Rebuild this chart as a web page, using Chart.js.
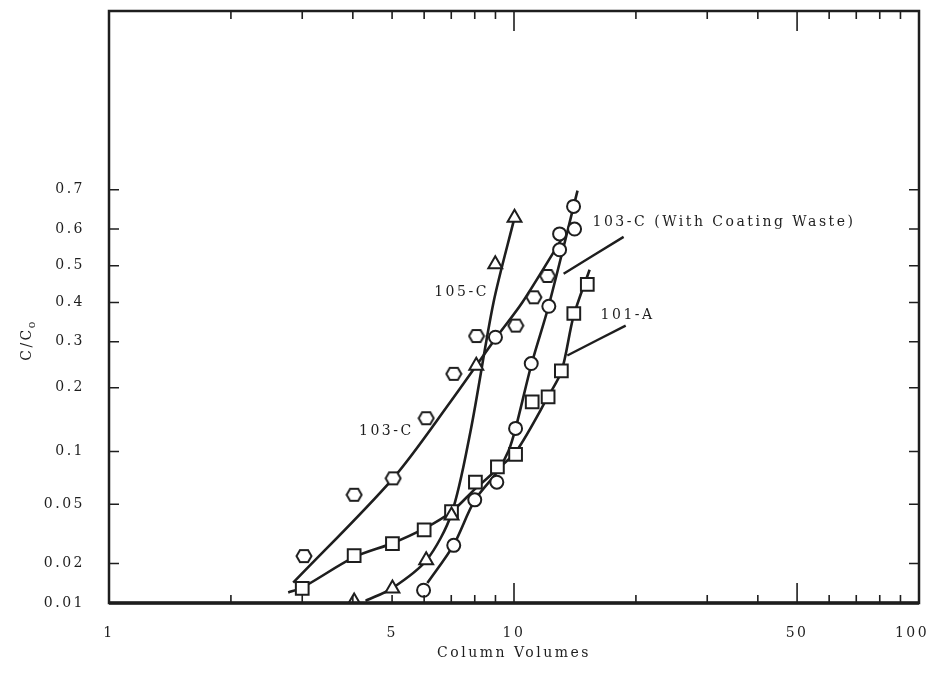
<!DOCTYPE html>
<html>
<head>
<meta charset="utf-8">
<script src="https://cdn.jsdelivr.net/npm/chart.js@4.4.1/dist/chart.umd.min.js"></script>
<style>
  body { margin: 0; background: #fff; }
  canvas { display: block; }
</style>
</head>
<body>
<canvas id="chart" width="931" height="682"></canvas>
<script>
// axis ticks
const xTickValues = [1, 5, 10, 50, 100];
const xTickLabels = ["1", "5", "10", "50", "100  "];
const xMinorTicks = [2, 3, 4, 5, 6, 7, 8, 9, 20, 30, 40, 60, 70, 80, 90];
const xMajorTicks = [10, 50];
const yTickValues = [0.01, 0.02, 0.05, 0.1, 0.2, 0.3, 0.4, 0.5, 0.6, 0.7];
const yTickLabels = ["0.01", "0.02", "0.05", "0.1", "0.2", "0.3", "0.4", "0.5", "0.6", "0.7"];
const yMinP = 0.01;
const yMaxP = 0.9606;

// 103-C (hexagons)
const hex103cX = [3.03, 4.03, 5.03, 6.07, 7.10, 8.08, 10.1, 11.2, 12.1];
const hex103cP = [0.0226, 0.0571, 0.0713, 0.1465, 0.228, 0.314, 0.340, 0.414, 0.472];
// 103-C (With Coating Waste) (circles)
const circWcwX = [5.98, 7.10, 8.0, 9.07, 9.0, 10.09, 11.03, 12.19, 12.96, 12.96, 14.11, 14.03];
const circWcwP = [0.0126, 0.0269, 0.0532, 0.0677, 0.311, 0.131, 0.250, 0.390, 0.544, 0.587, 0.600, 0.659];
// 105-C (triangles)
const tri105cX = [4.03, 5.01, 6.07, 7.01, 8.07, 8.99, 10.03];
const tri105cP = [0.0103, 0.0130, 0.0211, 0.0424, 0.245, 0.504, 0.630];
// 101-A (squares)
const sq101aX = [3.0, 4.03, 5.01, 6.0, 7.01, 8.03, 9.10, 10.09, 11.09, 12.14, 13.09, 14.05, 15.17];
const sq101aP = [0.0130, 0.0228, 0.0276, 0.0342, 0.0449, 0.0677, 0.0828, 0.0965, 0.174, 0.183, 0.234, 0.371, 0.449];

// hand drawn curves
const line103cX = [2.85, 5.03, 6.97, 9.05, 10.48, 13.11];
const line103cP = [0.0144, 0.0713, 0.174, 0.311, 0.400, 0.573];
const line105cX = [4.30, 5.01, 6.08, 7.01, 7.81, 8.90, 10.03];
const line105cP = [0.0104, 0.0131, 0.0211, 0.0436, 0.127, 0.400, 0.630];
const lineWcwX = [6.11, 7.09, 7.99, 9.11, 9.69, 10.09, 11.05, 12.17, 14.35];
const lineWcwP = [0.0143, 0.0270, 0.0526, 0.0782, 0.1006, 0.131, 0.249, 0.390, 0.698];
const line101aX = [2.77, 3.0, 4.03, 5.01, 6.01, 7.01, 8.03, 9.11, 10.14, 12.17, 13.11, 14.03, 15.37];
const line101aP = [0.0121, 0.0132, 0.0222, 0.0278, 0.0350, 0.0449, 0.0621, 0.0804, 0.1006, 0.185, 0.234, 0.364, 0.489];

// leader lines
const leaderWcwX = [13.26, 18.65];
const leaderWcwP = [0.478, 0.579];
const leader101aX = [13.54, 18.87];
const leader101aP = [0.268, 0.340];

// curve labels
const noteTexts = ["103-C", "105-C", "103-C (With Coating Waste)", "101-A"];
const noteX = [4.84, 7.42, 15.63, 16.36];
const noteP = [0.127, 0.427, 0.618, 0.366];
const noteAlign = ["center", "center", "left", "left"];

const FONT = '14px "DejaVu Serif"';
const INK = "#1e1e1e";

// inverse normal (probability axis)
function probit(p) {
  const a = [-39.69683028665376, 220.9460984245205, -275.9285104469687, 138.3577518672690, -30.66479806614716, 2.506628277459239];
  const b = [-54.47609879822406, 161.5858368580409, -155.6989798598866, 66.80131188771972, -13.28068155288572];
  const c = [-0.007784894002430293, -0.3223964580411365, -2.400758277161838, -2.549732539343734, 4.374664141464968, 2.938163982698783];
  const d = [0.007784695709041462, 0.3224671290700398, 2.445134137142996, 3.754408661907416];
  const plow = 0.02425;
  let q, r;
  if (p < plow) {
    q = Math.sqrt(-2 * Math.log(p));
    return (((((c[0]*q+c[1])*q+c[2])*q+c[3])*q+c[4])*q+c[5]) / ((((d[0]*q+d[1])*q+d[2])*q+d[3])*q+1);
  }
  if (p <= 1 - plow) {
    q = p - 0.5; r = q * q;
    return (((((a[0]*r+a[1])*r+a[2])*r+a[3])*r+a[4])*r+a[5])*q / (((((b[0]*r+b[1])*r+b[2])*r+b[3])*r+b[4])*r+1);
  }
  q = Math.sqrt(-2 * Math.log(1 - p));
  return -(((((c[0]*q+c[1])*q+c[2])*q+c[3])*q+c[4])*q+c[5]) / ((((d[0]*q+d[1])*q+d[2])*q+d[3])*q+1);
}

function pts(xs, ps) {
  return xs.map((x, i) => ({ x: x, y: probit(ps[i]) }));
}

// hexagon marker
const hexImg = document.createElement("canvas");
hexImg.width = 18; hexImg.height = 16;
(function () {
  const g = hexImg.getContext("2d");
  g.beginPath();
  g.moveTo(1.5, 8); g.lineTo(5, 2); g.lineTo(13, 2);
  g.lineTo(16.5, 8); g.lineTo(13, 14); g.lineTo(5, 14);
  g.closePath();
  g.fillStyle = "#fff"; g.fill();
  g.lineWidth = 2; g.strokeStyle = INK; g.stroke();
})();

function markers(data, style, radius) {
  return {
    data: data, showLine: false, pointStyle: style, pointRadius: radius,
    pointBackgroundColor: "#fff", pointBorderColor: INK, pointBorderWidth: 2, order: 1,
  };
}
function curve(data, width) {
  return {
    data: data, showLine: true, pointRadius: 0, borderColor: INK,
    borderWidth: width, tension: 0.3, fill: false, order: 2,
  };
}

// no automatic label padding, chart area is set by layout padding only
function noPad(s) {
  s.paddingTop = 0; s.paddingBottom = 0; s.paddingLeft = 0; s.paddingRight = 0;
}

const paperPlugin = {
  id: "paper",
  beforeDraw(chart) {
    chart.ctx.letterSpacing = "2.5px";
  },
  afterDraw(chart) {
    const { ctx, chartArea: a, scales } = chart;
    const x = scales.x, y = scales.y;
    ctx.save();
    ctx.strokeStyle = INK;
    ctx.fillStyle = INK;
    // frame
    ctx.lineWidth = 2.5;
    ctx.strokeRect(a.left, a.top, a.right - a.left, a.bottom - a.top);
    ctx.lineWidth = 3.5;
    ctx.beginPath(); ctx.moveTo(a.left, a.bottom); ctx.lineTo(a.right, a.bottom); ctx.stroke();
    // inward ticks
    ctx.lineWidth = 1.6;
    ctx.beginPath();
    xMinorTicks.forEach(v => {
      const px = x.getPixelForValue(v);
      ctx.moveTo(px, a.bottom); ctx.lineTo(px, a.bottom - 8);
      ctx.moveTo(px, a.top); ctx.lineTo(px, a.top + 8);
    });
    xMajorTicks.forEach(v => {
      const px = x.getPixelForValue(v);
      ctx.moveTo(px, a.bottom); ctx.lineTo(px, a.bottom - 20);
      ctx.moveTo(px, a.top); ctx.lineTo(px, a.top + 20);
    });
    yTickValues.forEach(v => {
      const py = y.getPixelForValue(probit(v));
      ctx.moveTo(a.left, py); ctx.lineTo(a.left + 10, py);
      ctx.moveTo(a.right, py); ctx.lineTo(a.right - 10, py);
    });
    ctx.stroke();
    // curve labels
    ctx.font = FONT;
    ctx.letterSpacing = "2.5px";
    ctx.textBaseline = "middle";
    noteTexts.forEach((t, i) => {
      ctx.textAlign = noteAlign[i];
      ctx.fillText(t, x.getPixelForValue(noteX[i]), y.getPixelForValue(probit(noteP[i])));
    });
    // axis titles
    ctx.textAlign = "center";
    ctx.fillText("Column Volumes", (a.left + a.right) / 2, 653);
    ctx.translate(27, 340);
    ctx.rotate(-Math.PI / 2);
    ctx.textAlign = "left";
    const w = ctx.measureText("C/C").width;
    const total = w + 8;
    ctx.fillText("C/C", -total / 2, 0);
    ctx.font = '11px "DejaVu Serif"';
    ctx.fillText("o", -total / 2 + w - 1, 5);
    ctx.restore();
  },
};

new Chart(document.getElementById("chart"), {
  type: "scatter",
  data: {
    datasets: [
      markers(pts(hex103cX, hex103cP), hexImg, 8),
      markers(pts(circWcwX, circWcwP), "circle", 6.5),
      markers(pts(tri105cX, tri105cP), "triangle", 8),
      markers(pts(sq101aX, sq101aP), "rect", 9),
      curve(pts(line103cX, line103cP), 2.6),
      curve(pts(line105cX, line105cP), 2.6),
      curve(pts(lineWcwX, lineWcwP), 2.6),
      curve(pts(line101aX, line101aP), 2.6),
      curve(pts(leaderWcwX, leaderWcwP), 2.4),
      curve(pts(leader101aX, leader101aP), 2.4),
    ],
  },
  options: {
    responsive: false,
    animation: false,
    events: [],
    layout: { padding: { top: 6, right: 12, left: 0, bottom: 0 } },
    plugins: { legend: { display: false }, tooltip: { enabled: false } },
    scales: {
      x: {
        type: "logarithmic",
        min: 1, max: 100,
        grid: { display: false, drawTicks: false },
        border: { display: false },
        ticks: {
          autoSkip: false, maxRotation: 0, padding: 22,
          font: { family: "DejaVu Serif", size: 14 }, color: INK,
          callback: (v, i) => xTickLabels[i],
        },
        afterBuildTicks: s => { s.ticks = xTickValues.map(v => ({ value: v })); },
        afterFit: s => { s.height = 79; noPad(s); },
      },
      y: {
        type: "linear",
        min: probit(yMinP), max: probit(yMaxP),
        grid: { display: false, drawTicks: false },
        border: { display: false },
        ticks: {
          autoSkip: false, padding: 24,
          font: { family: "DejaVu Serif", size: 14 }, color: INK,
          callback: (v, i) => yTickLabels[i],
        },
        afterBuildTicks: s => { s.ticks = yTickValues.map(v => ({ value: probit(v) })); },
        afterFit: s => { s.width = 109; noPad(s); },
      },
    },
  },
  plugins: [paperPlugin],
});
</script>
</body>
</html>
